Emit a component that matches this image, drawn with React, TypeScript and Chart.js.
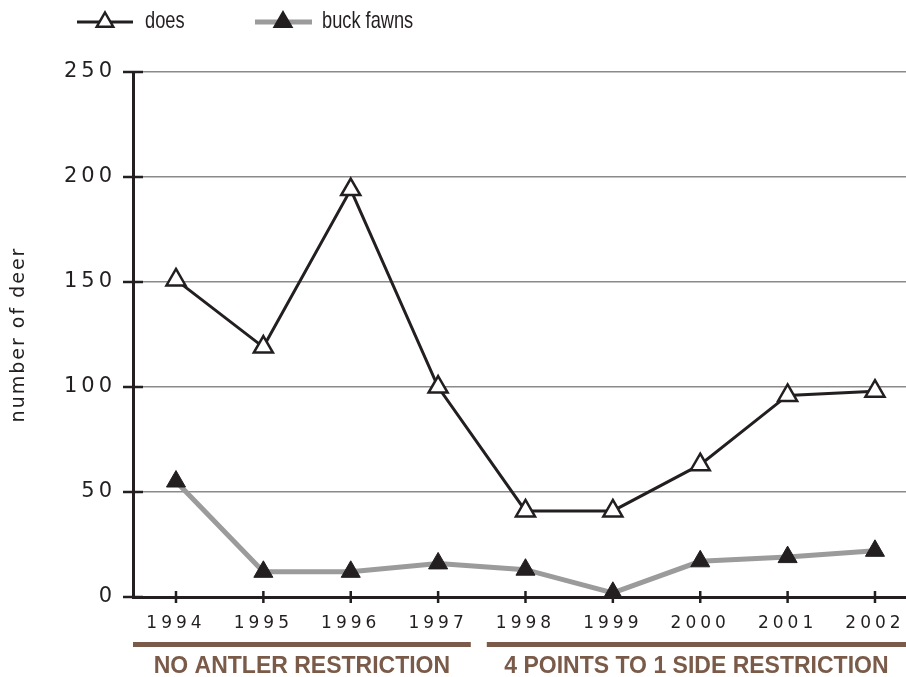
import React, { useEffect, useRef } from 'react';
import { Chart, registerables } from 'chart.js';

Chart.register(...registerables);

const years = [1994, 1995, 1996, 1997, 1998, 1999, 2000, 2001, 2002];
const does = [151, 119, 194, 100, 41, 41, 63, 96, 98];
const buckFawns = [55, 12, 12, 16, 13, 2, 17, 19, 22];
const yTicks = [0, 50, 100, 150, 200, 250];
const periodLabels = ['NO ANTLER RESTRICTION', '4 POINTS TO 1 SIDE RESTRICTION'];
const periodSplit = 1997.5;
const legendLabels = ['does', 'buck fawns'];
const yTitle = 'number of deer';

const INK = '#231f20';
const GRAY = '#9b9b9b';
const BROWN = '#7a5a48';
const W = 906;
const H = 677;

function tri(ctx: CanvasRenderingContext2D, cx: number, cy: number, r: number) {
  ctx.beginPath();
  ctx.moveTo(cx, cy - r);
  ctx.lineTo(cx + 0.866 * r, cy + 0.5 * r);
  ctx.lineTo(cx - 0.866 * r, cy + 0.5 * r);
  ctx.closePath();
}

export default function App() {
  const ref = useRef<HTMLCanvasElement>(null);

  useEffect(() => {
    const canvas = ref.current;
    if (!canvas) return;

    const deco = {
      id: 'deco',
      beforeDraw(chart: any) {
        // spacing for the axis title (drawn with the grid layer)
        (chart.ctx as any).letterSpacing = '2px';
      },
      beforeDatasetsDraw(chart: any) {
        const ctx = chart.ctx as CanvasRenderingContext2D;
        (ctx as any).letterSpacing = '0px';
        const xs = chart.scales.x;
        const ys = chart.scales.y;
        ctx.save();
        ctx.strokeStyle = INK;
        ctx.lineWidth = 2.5;
        yTicks.forEach((v) => {
          const py = ys.getPixelForValue(v);
          ctx.beginPath();
          ctx.moveTo(xs.left - 10, py);
          ctx.lineTo(xs.left + 10, py);
          ctx.stroke();
        });
        years.forEach((v) => {
          const px = xs.getPixelForValue(v);
          ctx.beginPath();
          ctx.moveTo(px, ys.bottom - 6);
          ctx.lineTo(px, ys.bottom + 6);
          ctx.stroke();
        });
        ctx.restore();
      },
      afterDatasetsDraw(chart: any) {
        // spacing for tick labels (drawn in a layer above datasets)
        (chart.ctx as any).letterSpacing = '4px';
      },
      afterDraw(chart: any) {
        const ctx = chart.ctx as CanvasRenderingContext2D;
        (ctx as any).letterSpacing = '0px';
        const xs = chart.scales.x;
        const ys = chart.scales.y;
        const split = xs.getPixelForValue(periodSplit);
        const segs = [
          [xs.left, split - 11],
          [split + 5, xs.right],
        ];
        ctx.save();
        ctx.fillStyle = BROWN;
        ctx.font = 'bold 23px "Liberation Sans", Arial, sans-serif';
        ctx.textAlign = 'center';
        ctx.textBaseline = 'middle';
        segs.forEach((s, i) => {
          ctx.fillRect(s[0], ys.bottom + 45, s[1] - s[0], 5);
          ctx.fillText(periodLabels[i], (s[0] + s[1]) / 2, ys.bottom + 70);
        });

        // legend
        const items = [
          { x0: 77, x1: 133, cx: 105, tx: 145, color: INK, lw: 3, fill: '#ffffff' },
          { x0: 255, x1: 312, cx: 283, tx: 322, color: GRAY, lw: 5, fill: INK },
        ];
        const ly = 22;
        items.forEach((it, i) => {
          ctx.strokeStyle = it.color;
          ctx.lineWidth = it.lw;
          ctx.beginPath();
          ctx.moveTo(it.x0, ly);
          ctx.lineTo(it.x1, ly);
          ctx.stroke();
          tri(ctx, it.cx, ly, 9.5);
          ctx.fillStyle = it.fill;
          ctx.fill();
          ctx.strokeStyle = INK;
          ctx.lineWidth = 2.5;
          ctx.stroke();
          ctx.save();
          ctx.translate(it.tx, ly - 1);
          ctx.scale(0.76, 1);
          ctx.fillStyle = INK;
          ctx.font = '24px "Liberation Sans", Arial, sans-serif';
          ctx.textAlign = 'left';
          ctx.textBaseline = 'middle';
          ctx.fillText(legendLabels[i], 0, 0);
          ctx.restore();
        });
        ctx.restore();
      },
    };

    const chart = new Chart(canvas, {
      type: 'line',
      data: {
        datasets: [
          {
            label: legendLabels[1],
            data: years.map((yr, i) => ({ x: yr, y: buckFawns[i] })),
            borderColor: GRAY,
            borderWidth: 5,
            pointStyle: 'triangle',
            pointRadius: 11,
            pointBackgroundColor: INK,
            pointBorderColor: INK,
            pointBorderWidth: 1,
            tension: 0,
            clip: false,
          } as any,
          {
            label: legendLabels[0],
            data: years.map((yr, i) => ({ x: yr, y: does[i] })),
            borderColor: INK,
            borderWidth: 3,
            pointStyle: 'triangle',
            pointRadius: 11,
            pointBackgroundColor: '#ffffff',
            pointBorderColor: INK,
            pointBorderWidth: 2.5,
            tension: 0,
            clip: false,
          } as any,
        ],
      },
      options: {
        responsive: false,
        animation: false,
        events: [],
        layout: { autoPadding: false, padding: { top: 72, right: 0, bottom: 0, left: 0 } },
        plugins: {
          legend: { display: false },
          tooltip: { enabled: false },
          title: { display: false },
        },
        scales: {
          x: {
            type: 'linear',
            min: 1993.508,
            max: 2002.355,
            grid: { display: true, drawOnChartArea: false, drawTicks: false },
            border: { display: true, color: INK, width: 3 },
            ticks: {
              z: 1,
              stepSize: 1,
              includeBounds: false,
              autoSkip: false,
              maxRotation: 0,
              padding: 16,
              color: INK,
              font: { family: '"DejaVu Sans", sans-serif', size: 17 },
              callback: (v: any) => String(v),
            },
            afterFit: (s: any) => {
              s.height = 80;
              s.paddingLeft = 0;
              s.paddingRight = 0;
            },
          } as any,
          y: {
            min: 0,
            max: 250,
            grid: { color: '#8a8a8a', lineWidth: 1.5, drawTicks: false },
            border: { display: true, color: INK, width: 3 },
            ticks: {
              z: 1,
              stepSize: 50,
              padding: 17,
              color: INK,
              font: { family: '"DejaVu Sans", sans-serif', size: 21 },
            },
            title: {
              display: true,
              text: yTitle,
              color: INK,
              padding: { top: 8, bottom: 0 },
              font: { family: '"DejaVu Sans", sans-serif', size: 19 },
            },
            afterFit: (s: any) => {
              s.width = 133;
              s.paddingTop = 0;
              s.paddingBottom = 0;
            },
          } as any,
        },
      },
      plugins: [deco],
    });

    return () => chart.destroy();
  }, []);

  return (
    <div style={{ position: 'fixed', left: 0, top: 0, width: W, height: H, background: '#fff' }}>
      <canvas ref={ref} width={W} height={H} style={{ width: W, height: H, display: 'block' }} />
    </div>
  );
}
